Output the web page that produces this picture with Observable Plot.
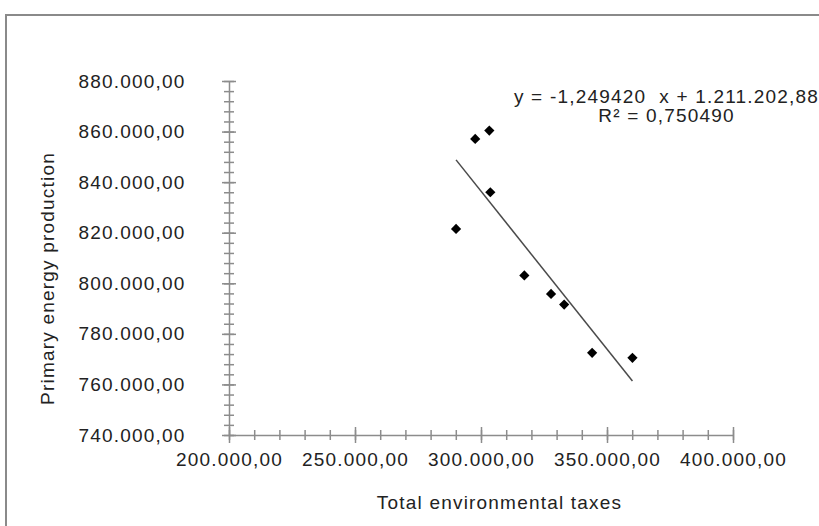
<!DOCTYPE html>
<html><head><meta charset="utf-8">
<script src="https://cdn.jsdelivr.net/npm/d3@7"></script>
<script src="https://cdn.jsdelivr.net/npm/@observablehq/plot@0.6"></script>
<style>
html,body{margin:0;padding:0;background:#fff;overflow:hidden;}
#wrap{position:relative;width:819px;height:526px;overflow:hidden;}
#border{position:absolute;left:5px;top:14px;width:900px;height:600px;border:2px solid #8a8a8a;box-sizing:border-box;}
#chart{position:absolute;left:0;top:0;}
</style></head><body>
<div id="wrap"><div id="border"></div><div id="chart"></div></div>
<script>
// Data
const taxes = [289900, 297500, 303100, 303500, 317000, 327600, 332800, 343900, 359900];
const production = [821700, 857300, 860600, 836200, 803300, 796000, 791800, 772700, 770700];
const xTicks = [200000, 250000, 300000, 350000, 400000];
const yTicks = [740000, 760000, 780000, 800000, 820000, 840000, 860000, 880000];
const xMinorStep = 10000;
const yMinorStep = 4000;
const slope = -1.249420;
const intercept = 1211202.88;
const equationText = "y = -1,249420\u00a0 x + 1.211.202,88\nR² = 0,750490";
const xTitle = "Total environmental taxes";
const yTitle = "Primary energy production";

const points = taxes.map((t, i) => ({x: t, y: production[i]}));
const xMinor = d3.range(xTicks[0], xTicks[xTicks.length - 1] + 1, xMinorStep);
const yMinor = d3.range(yTicks[0], yTicks[yTicks.length - 1] + 1, yMinorStep);
const [xMin, xMax] = d3.extent(taxes);
const trend = [{x1: xMin, y1: slope * xMin + intercept, x2: xMax, y2: slope * xMax + intercept}];

const fmt = d3.formatLocale({decimal: ",", thousands: ".", grouping: [3], currency: ["", ""]}).format(",.2f");
const AXIS = "#8c8c8c";
const TEXT = "#222";

const chart = Plot.plot({
  width: 819, height: 526,
  marginLeft: 229, marginRight: 86, marginTop: 81, marginBottom: 91,
  style: {fontFamily: "'Liberation Sans', Arial, sans-serif", fontSize: "19px", letterSpacing: "1.2px", background: "transparent", color: TEXT},
  x: {domain: [xTicks[0], xTicks[xTicks.length - 1]]},
  y: {domain: [yTicks[0], yTicks[yTicks.length - 1]]},
  marks: [
    Plot.ruleX([xTicks[0]], {stroke: AXIS, strokeWidth: 1.5}),
    Plot.ruleY([yTicks[0]], {stroke: AXIS, strokeWidth: 1.5}),
    Plot.axisY(yMinor, {tickSize: 10, dx: 5, fill: "none", stroke: AXIS, strokeWidth: 1.5, label: null}),
    Plot.axisY(yTicks, {tickSize: 14, dx: 7, fill: "none", stroke: AXIS, strokeWidth: 1.5, label: null}),
    Plot.axisY(yTicks, {tickSize: 0, tickPadding: 44, tickFormat: fmt, fill: TEXT, label: null}),
    Plot.axisX(xMinor, {tickSize: 10, dy: -5, fill: "none", stroke: AXIS, strokeWidth: 1.5, label: null}),
    Plot.axisX(xTicks, {tickSize: 16, dy: -8, fill: "none", stroke: AXIS, strokeWidth: 1.5, label: null}),
    Plot.axisX(xTicks, {tickSize: 0, tickPadding: 17, tickFormat: fmt, fill: TEXT, label: null}),
    Plot.link(trend, {x1: "x1", y1: "y1", x2: "x2", y2: "y2", stroke: "#4a4a4a", strokeWidth: 1.5}),
    Plot.dot(points, {x: "x", y: "y", symbol: "diamond2", r: 4.6, fill: "#000", stroke: "none"}),
    Plot.text([equationText], {text: d => d, frameAnchor: "top-right", dx: -67, dy: 25, textAnchor: "middle", lineAnchor: "middle", lineHeight: 1, fill: TEXT}),
    Plot.text([xTitle], {text: d => d, frameAnchor: "bottom", dx: 18, dy: 67, textAnchor: "middle", lineAnchor: "middle", fill: TEXT}),
    Plot.text([yTitle], {text: d => d, frameAnchor: "left", dx: -182, dy: 20, rotate: -90, textAnchor: "middle", lineAnchor: "middle", fill: TEXT})
  ]
});
document.getElementById("chart").appendChild(chart);
</script>
</body></html>
